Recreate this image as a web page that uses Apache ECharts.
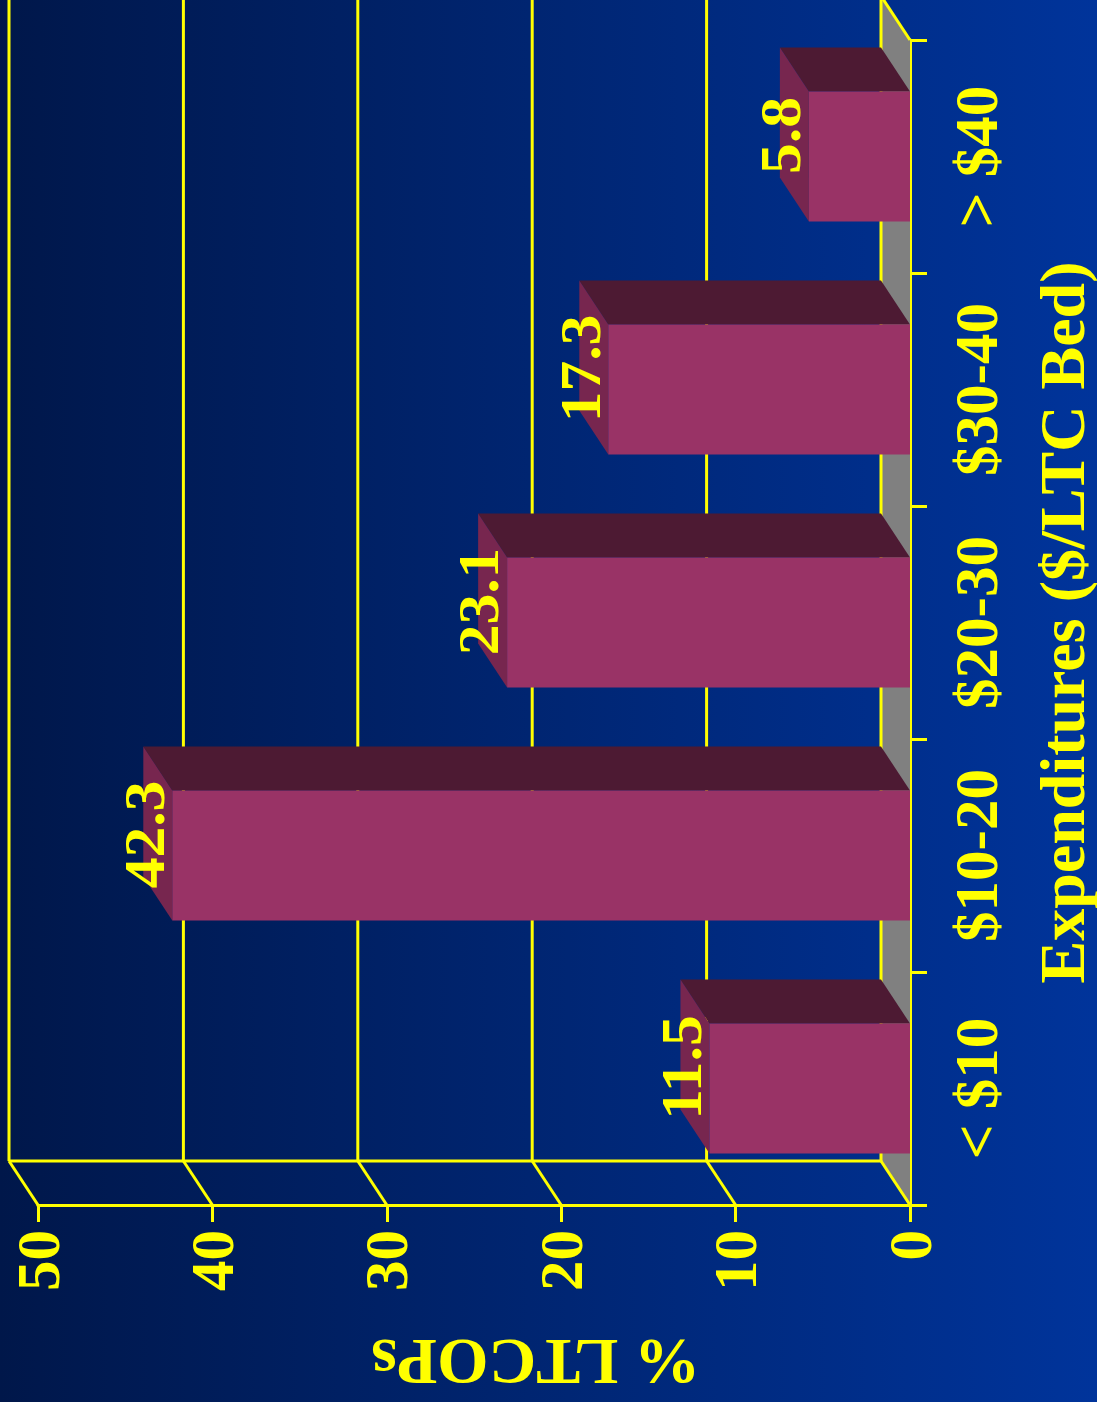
<!DOCTYPE html>
<html><head><meta charset="utf-8">
<script src="https://cdn.jsdelivr.net/npm/echarts@6.0.0/dist/echarts.min.js"></script>
<style>html,body{margin:0;padding:0;background:#001a4d;overflow:hidden}#c{width:1097px;height:1402px}</style>
</head><body><div id="c"></div>
<script>
const categories = ['< $10', '$10-20', '$20-30', '$30-40', '> $40'];
const values = [11.5, 42.3, 23.1, 17.3, 5.8];
const valueTicks = [0, 10, 20, 30, 40, 50];
const valueAxisTitle = '% LTCOPs';
const categoryAxisTitle = 'Expenditures ($/LTC Bed)';

const YEL = '#ffff00';
const F = '"Liberation Serif", "Times New Roman", serif';
const DX = -29, DY = -44;
const LW = 3;

const chart = echarts.init(document.getElementById('c'), null, {renderer: 'svg'});

function wallItem(params, api) {
  const v = api.value(0);
  const n = categories.length;
  const p0 = api.coord([v, 0]);
  const bh = api.size([0, 1])[1];
  const yb = p0[1] + bh / 2;
  const yt = api.coord([v, n - 1])[1] - bh / 2;
  const x = p0[0];
  const ls = {stroke: YEL, lineWidth: LW};
  return {type: 'group', children: [
    {type: 'line', shape: {x1: x + DX, y1: yt + DY - 10, x2: x + DX, y2: yb + DY}, style: ls},
    {type: 'line', shape: {x1: x + DX, y1: yb + DY, x2: x, y2: yb}, style: ls}
  ]};
}

function frameItem(params, api) {
  const n = categories.length;
  const p0 = api.coord([valueTicks[0], 0]);
  const pm = api.coord([valueTicks[valueTicks.length - 1], 0]);
  const bh = api.size([0, 1])[1];
  const yb = p0[1] + bh / 2;
  const yt = api.coord([valueTicks[0], n - 1])[1] - bh / 2;
  const x = p0[0];
  const ls = {stroke: YEL, lineWidth: LW};
  return {type: 'group', children: [
    {type: 'polygon', shape: {points: [[x + DX, yt + DY], [x, yt], [x, yb], [x + DX, yb + DY]]}, style: {fill: '#808080'}},
    {type: 'line', shape: {x1: x + DX, y1: yt + DY, x2: x, y2: yt}, style: ls},
    {type: 'line', shape: {x1: pm[0] + DX, y1: yb + DY, x2: x + DX, y2: yb + DY}, style: ls}
  ]};
}

function barItem(params, api) {
  const v = api.value(0);
  const i = api.value(1);
  const p = api.coord([v, i]);
  const base = api.coord([0, i]);
  const bh = api.size([0, 1])[1];
  const w = bh * 0.558;
  const yT = p[1] - w / 2, yB = p[1] + w / 2;
  const xL = p[0], xR = base[0];
  return {type: 'group', children: [
    {type: 'polygon', shape: {points: [[xL, yT], [xR, yT], [xR + DX, yT + DY], [xL + DX, yT + DY]]}, style: {fill: '#4d1a33'}},
    {type: 'polygon', shape: {points: [[xL, yT], [xL, yB], [xL + DX, yB + DY], [xL + DX, yT + DY]]}, style: {fill: '#77264f'}},
    {type: 'rect', shape: {x: xL, y: yT, width: xR - xL, height: yB - yT}, style: {fill: '#993366'}},
    {type: 'text', x: xL - 28, y: p[1] - 21, rotation: Math.PI / 2, scaleX: 1.08,
      style: {text: String(values[params.dataIndex]), fill: YEL, font: 'bold 57px ' + F, align: 'center', verticalAlign: 'middle'}}
  ]};
}

chart.setOption({
  backgroundColor: {type: 'linear', x: 0, y: 0, x2: 1, y2: 0, colorStops: [
    {offset: 0, color: '#00174a'}, {offset: 1, color: '#00349b'}]},
  animation: false,
  grid: {left: 38, right: 187, top: 40, bottom: 197, outerBoundsMode: 'none', containLabel: false},
  xAxis: {
    type: 'value', inverse: true, min: valueTicks[0], max: valueTicks[valueTicks.length - 1], interval: 10,
    axisLine: {show: true, lineStyle: {color: YEL, width: LW}},
    axisTick: {show: true, length: 17, lineStyle: {color: YEL, width: LW}},
    splitLine: {show: false},
    axisLabel: {rotate: 90, margin: 25, color: YEL, fontSize: 61, fontWeight: 'bold', fontFamily: F},
    name: valueAxisTitle, nameLocation: 'middle', nameRotate: 180, nameGap: 124,
    nameTextStyle: {color: YEL, fontSize: 66, fontWeight: 'bold', fontFamily: F, padding: [0, 124, 0, 0]}
  },
  yAxis: {
    type: 'category', data: categories, position: 'right', boundaryGap: true,
    axisLine: {show: true, lineStyle: {color: YEL, width: LW}},
    axisTick: {show: true, length: 17, lineStyle: {color: YEL, width: LW}},
    splitLine: {show: false},
    axisLabel: {rotate: 90, margin: 36, color: YEL, fontSize: 61, fontWeight: 'bold', fontFamily: F},
    name: categoryAxisTitle, nameLocation: 'middle', nameRotate: 90, nameGap: 120,
    nameTextStyle: {color: YEL, fontSize: 64, fontWeight: 'bold', fontFamily: F, lineHeight: 64}
  },
  series: [
    {type: 'custom', name: 'frame', silent: true, clip: false, z: 1, renderItem: frameItem, data: [[0, 0]]},
    {type: 'custom', name: 'grid', silent: true, clip: false, z: 2, renderItem: wallItem, data: valueTicks.map(v => [v, 0])},
    {type: 'custom', name: '% LTCOPs', silent: true, clip: false, z: 3, renderItem: barItem, data: values.map((v, i) => [v, i])}
  ]
});
</script></body></html>
